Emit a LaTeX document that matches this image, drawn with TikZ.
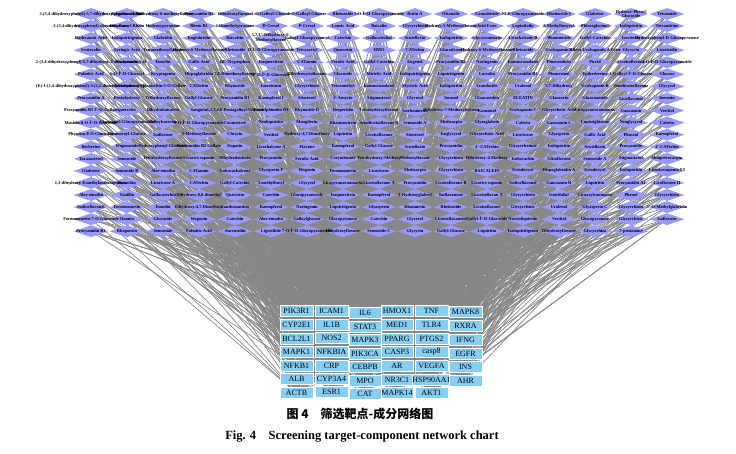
\documentclass[tikz,border=0pt]{standalone}
\usepackage{fontspec}
\setmainfont{Liberation Serif}
\newfontfamily\cjkfont{Noto Sans CJK SC}
\usetikzlibrary{shapes.geometric}
\pgfdeclarelayer{bgl}
\pgfdeclarelayer{edl}
\pgfsetlayers{edl,bgl,main}
\definecolor{dcol}{RGB}{153,153,255}
\definecolor{tcol}{RGB}{135,206,245}
\definecolor{ecol}{RGB}{135,135,135}
\begin{document}
\begin{tikzpicture}[x=1pt,y=-1pt,
  diam/.style={shape=diamond, fill=dcol, draw=none, minimum width=35pt, minimum height=12pt, inner sep=0pt, aspect=2.9},
  lab/.style={font=\fontsize{4.4}{4.6}\selectfont\bfseries, inner sep=0pt, align=center, text=black},
  tbox/.style={fill=tcol, draw=white, line width=0.3pt, minimum width=32.5pt, minimum height=11pt, inner sep=0pt, font=\fontsize{8}{9}\selectfont},
  edge/.style={draw=ecol, line width=0.7pt}]
\useasboundingbox (0,0) rectangle (736,454);

% component diamonds
\begin{pgfonlayer}{bgl}
\foreach \rr in {1,...,19}{
  \pgfmathtruncatemacro{\cmax}{\rr==19 ? 16 : 17}
  \foreach \cc in {1,...,\cmax}{
    \node[diam] (d-\rr-\cc) at ({91+36*(\cc-1)}, {14+12.07*(\rr-1)}) {};
  }
}
\end{pgfonlayer}

% targets
\foreach \nm/\x/\y [count=\kk] in {PIK3R1/296.5/311, ICAM1/331.5/311, IL6/365/313, HMOX1/397/311, TNF/431.5/311, MAPK8/465.5/312,
  CYP2E1/296.5/325, IL1B/331.5/324.5, STAT3/365/326.5, MED1/397/325, TLR4/431.5/325, RXRA/465.5/326,
  BCL2L1/296.5/338.5, NOS2/331.5/338, MAPK3/365/340, PPARG/397/338.5, PTGS2/431.5/338.5, IFNG/465.5/340,
  MAPK1/296.5/352, NFKBIA/331.5/352, PIK3CA/365/353.5, CASP3/397/352, casp8/431.5/352, EGFR/465.5/353.5,
  NFKB1/296.5/365.5, CRP/331.5/365.5, CEBPB/365/367, AR/397/365.5, VEGFA/431.5/365.5, INS/465.5/367,
  ALB/296.5/379, CYP3A4/331.5/379, MPO/365/380.5, NR3C1/397/379.5, HSP90AA1/431.5/379.5, AHR/465.5/381,
  ACTB/296.5/393, ESR1/331.5/392, CAT/365/394, MAPK14/397/393, AKT1/431.5/393}{
  \node[tbox] (t-\kk) at (\x,\y) {\nm};
}

% connectors
\begin{pgfonlayer}{edl}
\pgfmathsetseed{31}
\foreach \rr in {1,...,19}{
  \pgfmathtruncatemacro{\cmax}{\rr==19 ? 16 : 17}
  \foreach \cc in {1,...,\cmax}{
    \pgfmathtruncatemacro{\ne}{1+floor((6+14*rnd)*(1-0.65*abs(\cc-9)/8))}
    \foreach \kk in {1,...,\ne}{
      \pgfmathtruncatemacro{\tg}{1+floor(40.999*pow(rnd,1.4))}
      \draw[edge] (d-\rr-\cc.center) -- (t-\tg.center);
    }
  }
}
\end{pgfonlayer}

% component labels
\foreach \nm [count=\cc] in {{3-(3,4-dihydroxyphenyl)-5,7-dihydroxy-chromen-4-one}, {Epigallocatechin}, {5,7-dihydroxy-8-methoxyflavone}, {Procyanidin B5}, {Dihydroxyflavone}, {1-O-Galloyl-Glucose}, {6-O-Galloyl-Glucose}, {Rheinoside}, {1-O-Î²-D-Glucopyranoside}, {Rutin A}, {Oleanolic}, {Cannabiside}, {NLP-Glucopyranoside}, {Rheinoside I}, {Glabrene}, {Hydroxy-Phenyl\\Glucoside}, {Tetramide}}
  \node[lab] at (d-1-\cc) {\nm};
\foreach \nm [count=\cc] in {{2-(3,4-dihydroxyphenyl)-chromen-4-one}, {Dihydroxyl-Rhein}, {Hydroxypyranone}, {Rhein B1}, {4-Dimethylpyranone}, {D-Cresol}, {P-Cresol}, {Lauric Acid}, {Baicalin}, {Glycyrrhizin}, {Hydroxy-5-Methoxyflavone}, {Acid Ester}, {Lupinifolin}, {2-Methylbutyryl}, {Phloroglucinol}, {Isoliquiritin}, {Tetrandrine}}
  \node[lab] at (d-2-\cc) {\nm};
\foreach \nm [count=\cc] in {{Dodecanoic Acid}, {Isoliquiritigenin}, {Glabridin}, {Isoglabridin}, {Baicalein}, {5,7,4'-Trihydroxy-6-\\Methoxyflavone}, {Galloyl-Glucopyranosyl}, {Catechin}, {Gallocatechol}, {Scutellarin}, {Isoliquiritin}, {Glycycoumarin}, {Licochalcone B}, {Rhamnoside}, {Gallyl-Catechin}, {Isovitexin}, {Hydroxyphenyl-D-Glucopyranose}}
  \node[lab] at (d-3-\cc) {\nm};
\foreach \nm [count=\cc] in {{Scutevalin}, {Syringic Acid}, {Tetramethoxyflavone}, {Hydroxy-6-Methoxyflavone}, {Rheinoside}, {O-Î²-D-Glucopyranoside}, {Tetraacetyl}, {Quercetin}, {HMO}, {CATechin}, {Glucodrane}, {Hydroxy-6-Methoxyflavone}, {Rheinoside}, {Uralsaponin A}, {3-Beta-Uralsaponin A Ester}, {Glycyrin}, {Licoricidin}}
  \node[lab] at (d-4-\cc) {\nm};
\foreach \nm [count=\cc] in {{2-(3,4-dihydroxyphenyl)-5,7-dihydroxy-4-oxochromen-3-yl}, {Procyanidin}, {Emodin}, {Gallic Acid}, {DL-Tryptophan}, {Isoquercitrin}, {CATannin}, {Ferulic Acid}, {Gallyl-Catechin}, {Eugenol}, {Procyanidin B2}, {Naringenin}, {Isomucronulatol}, {Pinocembrin}, {Picrid}, {Licoisoflavone}, {3-O-Î²-D-Glucopyranoside}}
  \node[lab] at (d-5-\cc) {\nm};
\foreach \nm [count=\cc] in {{Palmitic Acid}, {6-O-Î²-D-Glucosyl}, {Kryptogenin}, {Hispaglabridin}, {7,8-Dimethoxyflavone}, {4'-O-Î²-D-Glucoside}, {Dihydroxyisoflavone}, {Glucoside}, {Mirielic Acid}, {Isoliquiritigenin}, {Liquiritigenin}, {Luteolin}, {Procyanidin B1}, {Pinoresinol}, {Epiberberine}, {1-Galloyl-Î²-D-Glucose}, {Glucose}}
  \node[lab] at (d-6-\cc) {\nm};
\foreach \nm [count=\cc] in {{(E)-1-(2,4-dihydroxyphenyl)-3-(2,2-dimethylchromen-6-yl)}, {Tetrahydroxy}, {Epicatechin-3-O-Gallate}, {CATechin}, {Rhynoside}, {Isoorientin}, {Glycyrrhizin}, {Tetramethyl}, {Isomucronulatol}, {Myristic Acid}, {Isoliquiritin}, {Scandoside}, {Uralenol}, {3,7-Dihydroxy}, {Uralsaponin B}, {Semilicoisoflavone}, {Glycyrol}}
  \node[lab] at (d-7-\cc) {\nm};
\foreach \nm [count=\cc] in {{Procyanidin A}, {Pentahydroxy}, {Trihydroxyflavone}, {Gallyl-Glucose}, {Procyanidin B1}, {Kaempferol I}, {Sitosterol}, {Î²-Amyrin}, {Stigmasterol}, {Glycerol}, {Jaranol}, {Glaucarubin}, {ELEATIN}, {Glaucarin}, {Gluconamide}, {Licoflavonol}, {Inermin}}
  \node[lab] at (d-8-\cc) {\nm};
\foreach \nm [count=\cc] in {{Procyanidin B3 3'-O-Gallate}, {quercetin}, {Dihydrobaicalein}, {Sanguiin}, {1,2,3,4,6-Pentagalloyl-Glucose}, {Prodelphinidin B3}, {Rhynoside D}, {Hesperidin}, {Tetrahydroxyflavone}, {Isorhamnetin}, {Dihydroxy-7-Methoxyflavone}, {Kanzonol}, {Uralsaponin C}, {Glycyrrhetic Acid}, {Licopyranocoumarin}, {Gancaonin}, {Vestitol}}
  \node[lab] at (d-9-\cc) {\nm};
\foreach \nm [count=\cc] in {{Musizin-8-O-Î²-D-Glucoside}, {Cinnamoyl-Glucopyranoside}, {Galloylcatechin}, {1-O-Î²-D-Glucopyranoside}, {Coumestrol}, {Neoliquiritin}, {Mangiferin}, {Rhamnocitrin}, {Semilicoisoflavone B}, {Sennoside A}, {Medicarpin}, {Glyzaglabrin}, {Calerin}, {Gancaonin L}, {Lupiwighteone}, {Neoglycyrol}, {Calerin}}
  \node[lab] at (d-10-\cc) {\nm};
\foreach \nm [count=\cc] in {{Physcion-8-O-Glucoside}, {Coumaroyl-Glucose}, {Isoflavone}, {5-Methoxyflavone}, {Chrysin}, {Vestitol}, {Hydroxy-4,7-Dimethoxy}, {Liquiritin}, {Licoisoflavone}, {Sitosterol}, {Isoglycyrol}, {Glycyrrhizic Acid}, {Licoricone}, {Glyasperin}, {Gallic Acid}, {Phaseol}, {Kaempferol}}
  \node[lab] at (d-11-\cc) {\nm};
\foreach \nm [count=\cc] in {{Berberine}, {Wogonoside}, {Hydroxyphenyl-Glucoside}, {Procyanidin B2 Gallate}, {Eupatin}, {Licochalcone A}, {Flavone}, {Kaempferol}, {Gallyl-Glucose}, {Scutellarin}, {Procyanidin}, {4'-CATechin}, {Glycyrrhetinic}, {Isoliquiritin}, {Scutellarin}, {Procyanidin}, {4'-CATechin}}
  \node[lab] at (d-12-\cc) {\nm};
\foreach \nm [count=\cc] in {{Taraxasterol}, {Sennoside}, {Tetrahydroxyflavone}, {Licorice saponin}, {Dihydrodaidzein}, {Procyanidin}, {Ferulic Acid}, {Corymboside}, {Tetrahydroxy-Methoxy}, {Methoxyflavone}, {Glycyrrhizin}, {Dihydroxy-4-Methoxy}, {Isobavachin}, {Glisoflavone}, {Sennoside A}, {Stigmasterol}, {Shinpterocarpin}}
  \node[lab] at (d-13-\cc) {\nm};
\foreach \nm [count=\cc] in {{Glabrene}, {Sennoside B}, {Aloe-emodin}, {CATannin}, {Isobavachalcone}, {Glyasperin F}, {Wogonin}, {Formononetin}, {Licoricone}, {Medicarpin}, {Glycyrrhizin}, {BAICALEIN}, {Eriodictyol}, {Hispaglabridin A}, {Eriodictyol}, {Isoliquiritin}, {Licoricesaponin F3}}
  \node[lab] at (d-14-\cc) {\nm};
\foreach \nm [count=\cc] in {{1,3-dihydroxy-8-methylanthraquinone}, {Bavachin}, {Licoricone A}, {CATechin}, {Gallyl-Catechin}, {3-methylbutyl}, {Glycyrol}, {Licopyranocoumarin}, {Licoisoflavone A}, {Procyanidin}, {Licoisoflavone B}, {Licorice saponin}, {Isolicoflavonol}, {Gancaonin H}, {Liquiritin}, {Procyanidin A1}, {Licoflavone II}}
  \node[lab] at (d-15-\cc) {\nm};
\foreach \nm [count=\cc] in {{Aloe-emodin}, {Vanillin}, {Gallocatechin}, {Dihydroxy-8,8-dimethyl}, {Quercetin}, {Catechin}, {Glucopyranoside}, {Isoquercitrin}, {Kaempferol}, {3-Hydroxyglabrol}, {Isoflavanone}, {Licorisoflavan A}, {Glycyrrhizin}, {Isotrifoliol}, {Licoarylcoumarin}, {Phenol}, {Glycyrrhizin}}
  \node[lab] at (d-16-\cc) {\nm};
\foreach \nm [count=\cc] in {{Isolicoflavonol}, {Formononetin}, {Emodin}, {Dihydroxy-4,7-Dimethoxy}, {Canthaxanthin}, {Kaempferol}, {Naringenin}, {Liquiritigenin}, {Glyasperin}, {Rhamnetin}, {Rheinoside}, {Licoisoflavone}, {Glycyrrhizic}, {Uralenol}, {Glyasperin C}, {Glycyrrhizin}, {3'-O-Methylglabridin}}
  \node[lab] at (d-17-\cc) {\nm};
\foreach \nm [count=\cc] in {{Formononetin-7-O-Glucoside}, {Ononin}, {Glucoside}, {Wogonin}, {Catechin}, {Aloe-emodin}, {Galloylglucose}, {Glucopyranose}, {Catechin}, {Glycerol}, {Licoisoflavanone}, {Gallyl-Î²-D-Glucoside}, {Neoisoliquiritin}, {Vestitol}, {Glucopyranose}, {Glycyrrhizic}, {Isoflavone}}
  \node[lab] at (d-18-\cc) {\nm};
\foreach \nm [count=\cc] in {{Procyanidin B1}, {Rhapontin}, {Sennoside}, {Palmitic Acid}, {Aureusidin}, {Ligustilide}, {7-O-Î²-D-Glucopyranoside}, {Dihydroxyflavone}, {Sennoside C}, {Glycyrin}, {Gallyl-Glucose}, {Liquiritin}, {Isoliquiritigenin}, {Dihydroxyflavone}, {Glycyrrhiza}, {7-pentanone}}
  \node[lab] at (d-19-\cc) {\nm};

% caption
\node[font=\cjkfont\bfseries\fontsize{12}{14}\selectfont, inner sep=0pt] (cap1) at (360,414) {图 4\quad 筛选靶点-成分网络图};
\node[font=\bfseries\fontsize{12.5}{14}\selectfont, inner sep=0pt] (cap2) at (362,437) {Fig. 4\quad Screening target-component network chart};
\end{tikzpicture}
\end{document}
